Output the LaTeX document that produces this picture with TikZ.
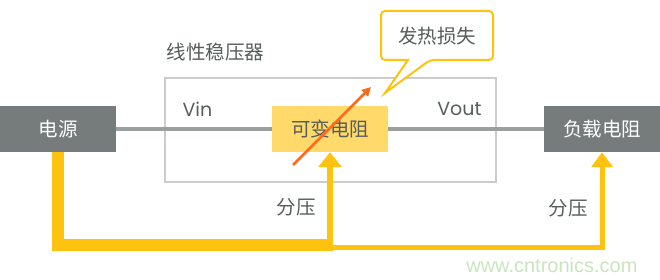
\documentclass[tikz,border=0pt]{standalone}
\usepackage{fontspec}
\setmainfont{Noto Sans CJK SC}
\newfontfamily\latinf{Poppins}
\newfontfamily\wmf{Liberation Sans}
\usetikzlibrary{arrows.meta}
\definecolor{boxgray}{HTML}{767C7C}
\definecolor{linegray}{HTML}{9A9F9F}
\definecolor{frame}{HTML}{CCCCCC}
\definecolor{resyel}{HTML}{FFD96A}
\definecolor{pathyel}{HTML}{FFC20E}
\definecolor{arrow}{HTML}{FF6A1A}
\definecolor{txt}{HTML}{575C5C}
\definecolor{wm}{HTML}{C9E5BE}
\tikzset{
  cjk/.style={font=\fontsize{19.5}{22}\selectfont, text=txt},
  graybox/.style={fill=boxgray, text=white, minimum width=116pt, minimum height=46pt, inner sep=0pt, font=\fontsize{19.5}{22}\selectfont},
  resbox/.style={fill=resyel, text=txt, minimum width=116pt, minimum height=46pt, inner sep=0pt, font=\fontsize{19.5}{22}\selectfont},
  conn/.style={draw=linegray, line width=4pt},
  yel/.style={draw=pathyel, line cap=butt, line join=miter},
}
\begin{document}
\begin{tikzpicture}[x=1pt,y=-1pt]
\useasboundingbox (0,0) rectangle (660,280);
% regulator frame
\draw[frame, line width=2pt] (165,78) rectangle (496,182);
\node[cjk, anchor=west] (title) at (163,52) {线性稳压器};
% boxes
\node[graybox] (src) at (58,129) {电源};
\node[resbox] (vr) at (330,129) {可变电阻};
\node[graybox] (load) at (602,129) {负载电阻};
% connectors
\draw[conn] (src.east) -- (vr.west);
\draw[conn] (vr.east) -- (load.west);
\node[font=\latinf\fontsize{19}{22}\selectfont, text=txt, anchor=west] (vin) at (179,109) {Vin};
\node[font=\latinf\fontsize{19}{22}\selectfont, text=txt, anchor=east] (vout) at (485,109) {Vout};
% variable arrow
\coordinate (a1) at (293,165);
\coordinate (a2) at (371,87);
\draw[arrow, line width=2.5pt, -{Triangle[width=9pt,length=9pt]}] (a1) -- (a2);
% callout
\coordinate (tip) at (385,93);
\draw[pathyel, line width=2pt, fill=white, rounded corners=4pt]
  (408,60) -- (381,60) -- (381,11) -- (493,11) -- (493,60) -- (430,60) [sharp corners] -- (tip) -- cycle;
\node[cjk] (heat) at (437,36) {发热损失};
% yellow paths
\coordinate (c1) at (327,245);
\coordinate (c2) at (330,251);
\coordinate (c3) at (330,247.5);
\draw[yel, line width=12pt] (src.south) |- (c1);
\draw[yel, line width=6pt, -{Triangle[width=23pt,length=15pt]}] (c2) -- (vr.south);
\draw[yel, line width=5pt, -{Triangle[width=21pt,length=15pt]}] (c3) -| (load.south);
\node[cjk] (f1) at (296,207) {分压};
\node[cjk] (f2) at (568,208) {分压};
\node[font=\wmf\fontsize{20}{22}\selectfont, text=wm, anchor=east] (wmk) at (641,265) {www.cntronics.com};
\end{tikzpicture}
\end{document}
